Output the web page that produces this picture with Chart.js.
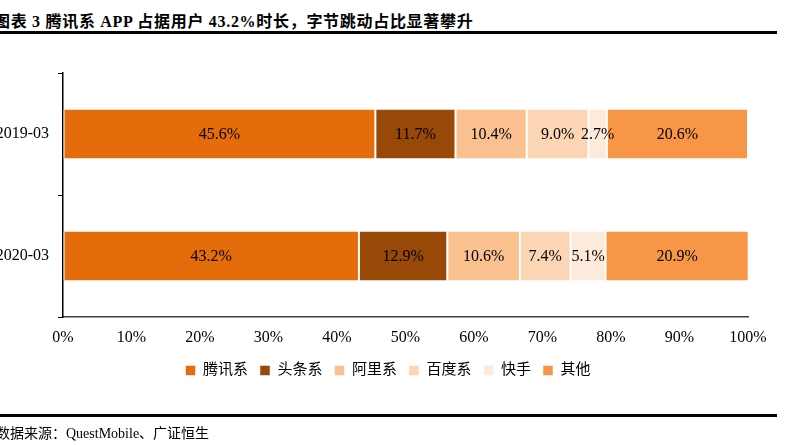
<!DOCTYPE html>
<html>
<head>
<meta charset="utf-8">
<script src="https://cdn.jsdelivr.net/npm/chart.js@4/dist/chart.umd.min.js"></script>
<style>
  html, body { margin: 0; padding: 0; background: #fff; }
  body { width: 796px; height: 445px; position: relative; overflow: hidden; }
  #title { position: absolute; left: -6px; top: 8px; white-space: nowrap; letter-spacing: 0.7px;
    font: bold 16px "Liberation Serif", "Noto Sans CJK SC", serif; color: #000; }
  #topline { position: absolute; left: 0; top: 31px; width: 777px; height: 3px; background: #000; }
  #botline { position: absolute; left: 0; top: 414px; width: 777px; height: 3px; background: #000; }
  #source { position: absolute; left: -4px; top: 422px; white-space: nowrap;
    font: 14px "Liberation Serif", "Noto Sans CJK SC", serif; color: #000; }
  #wrap { position: absolute; left: 0; top: 0; width: 796px; height: 445px; }
</style>
</head>
<body>
<div id="title">图表 3 腾讯系 APP 占据用户 43.2%时长，字节跳动占比显著攀升</div>
<div id="topline"></div>
<div id="wrap"><canvas id="c" width="796" height="445"></canvas></div>
<div id="botline"></div>
<div id="source">数据来源：QuestMobile、广证恒生</div>
<script>
const categories = ["2019-03", "2020-03"];
const seriesNames = ["腾讯系", "头条系", "阿里系", "百度系", "快手", "其他"];
const tencent = [45.6, 43.2];
const toutiao = [11.7, 12.9];
const alibaba = [10.4, 10.6];
const baidu = [9.0, 7.4];
const kuaishou = [2.7, 5.1];
const others = [20.6, 20.9];
const xTicks = [0, 10, 20, 30, 40, 50, 60, 70, 80, 90, 100];

const colors = ["#E46C0A", "#984807", "#FAC090", "#FCD5B5", "#FDEADA", "#F79646"];
const seriesData = [tencent, toutiao, alibaba, baidu, kuaishou, others];

const serif = '"Liberation Serif", "Noto Sans CJK SC", serif';

const labelPlugin = {
  id: 'barLabels',
  afterLayout(chart) {
    const lg = chart.legend;
    if (lg) { lg.left += 14; lg.right += 14; lg.top += 2; lg.bottom += 2; }
  },
  afterDatasetsDraw(chart) {
    const ctx = chart.ctx;
    ctx.save();
    ctx.font = '16px ' + serif;
    ctx.fillStyle = '#000';
    ctx.textAlign = 'center';
    ctx.textBaseline = 'middle';
    chart.data.datasets.forEach((ds, di) => {
      const meta = chart.getDatasetMeta(di);
      meta.data.forEach((bar, i) => {
        const v = ds.data[i];
        const cx = (bar.x + bar.base) / 2;
        ctx.fillText(v.toFixed(1) + '%', cx, bar.y + 1);
      });
    });
    ctx.restore();
  }
};

new Chart(document.getElementById('c'), {
  type: 'bar',
  data: {
    labels: categories,
    datasets: seriesNames.map((n, i) => ({
      label: n,
      data: seriesData[i],
      backgroundColor: colors[i],
      borderColor: '#ffffff',
      borderWidth: { left: 1, right: 1, top: 0, bottom: 0 },
      borderSkipped: false,
      barPercentage: 0.4,
      categoryPercentage: 1.0
    }))
  },
  options: {
    indexAxis: 'y',
    responsive: false,
    animation: false,
    devicePixelRatio: 1,
    layout: { padding: { top: 73, left: 0, right: 48, bottom: 59 } },
    scales: {
      x: {
        stacked: true,
        min: 0, max: 100,
        afterBuildTicks(scale) { scale.ticks = xTicks.map(v => ({ value: v })); },
        afterFit(scale) { scale.height = 32; },
        grid: { display: true, drawOnChartArea: false, drawTicks: false },
        border: { display: true, color: '#404040', width: 1.5 },
        ticks: {
          padding: 11,
          color: '#000',
          font: { family: serif, size: 16 },
          callback: v => v + '%'
        }
      },
      y: {
        stacked: true,
        afterFit(scale) { scale.width = 63; },
        grid: { display: true, offset: true, drawOnChartArea: false, drawTicks: true, tickLength: 5, color: '#000' },
        border: { display: true, color: '#000', width: 1.5 },
        ticks: {
          padding: 9,
          color: '#000',
          font: { family: serif, size: 16 }
        }
      }
    },
    plugins: {
      legend: {
        position: 'bottom',
        labels: {
          boxWidth: 10,
          boxHeight: 10,
          padding: 12,
          color: '#000',
          font: { family: serif, size: 15 }
        }
      },
      tooltip: { enabled: false }
    }
  },
  plugins: [labelPlugin]
});
</script>
</body>
</html>
